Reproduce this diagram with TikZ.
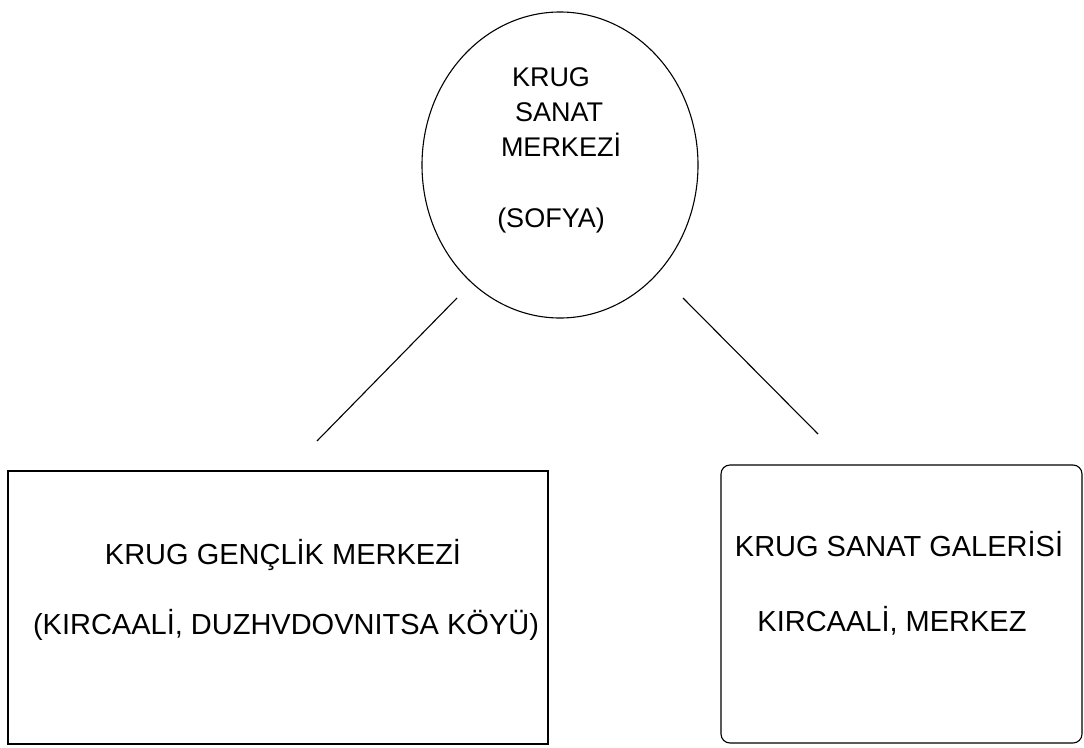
\documentclass[tikz,border=0pt]{standalone}
\usepackage{fontspec}
\setmainfont{Liberation Sans}
\usetikzlibrary{shapes.geometric}
\begin{document}
\begin{tikzpicture}[x=1pt,y=-1pt,
  shapeline/.style={draw=black, line width=1.1pt},
  lbl/.style={anchor=base, inner sep=0pt, font=\fontsize{27}{32}\selectfont},
  boxlbl/.style={anchor=base, inner sep=0pt, font=\fontsize{29}{34}\selectfont},
  conn/.style={draw=black, line width=1.1pt}]
\useasboundingbox (0,0) rectangle (1084,747);
\fill[white] (0,0) rectangle (1084,747);
% shapes
\node[shapeline, ellipse, minimum width=276pt, minimum height=306pt, inner sep=0pt] (top) at (560,165) {};
\node[shapeline, rectangle, minimum width=540pt, minimum height=273pt, inner sep=0pt] (gb) at (278,607.5) {};
\node[shapeline, rectangle, rounded corners=9pt, minimum width=361pt, minimum height=278pt, inner sep=0pt] (sg) at (901.5,604) {};
% texts
\node[lbl] (t1) at (551,86) {KRUG};
\node[lbl] (t2) at (559,121) {SANAT};
\node[lbl] (t3) at (561,156) {MERKEZİ};
\node[lbl] (t4) at (551,227) {(SOFYA)};
\node[boxlbl] (g1) at (283,564) {KRUG GENÇLİK MERKEZİ};
\node[boxlbl] (g2) at (286,634) {(KIRCAALİ, DUZHVDOVNITSA KÖYÜ)};
\node[boxlbl] (s1) at (899,556) {KRUG SANAT GALERİSİ};
\node[boxlbl] (s2) at (892,631) {KIRCAALİ, MERKEZ};
% connectors
\coordinate (l1) at (457,298);
\coordinate (l2) at (317,441);
\coordinate (r1) at (683,298);
\coordinate (r2) at (818,434);
\draw[conn] (l1) -- (l2);
\draw[conn] (r1) -- (r2);
\end{tikzpicture}
\end{document}
